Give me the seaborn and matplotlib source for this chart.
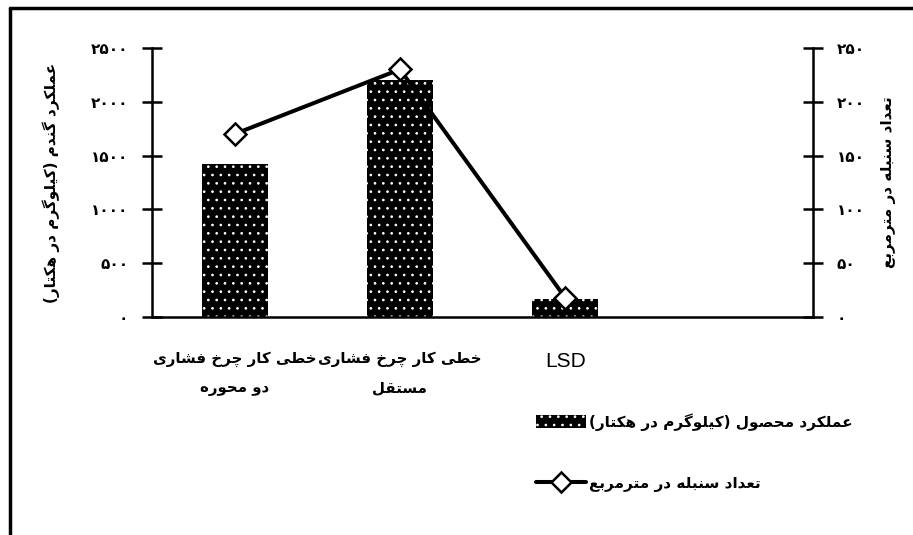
import numpy as np
import pandas as pd
import matplotlib
matplotlib.use("Agg")
import matplotlib.pyplot as plt
from matplotlib.patches import Patch
from matplotlib.lines import Line2D
import seaborn as sns

# data
categories = ["خطی کار چرخ فشاری\nدو محوره", "خطی کار چرخ فشاری\nمستقل", "LSD"]
grain_yield = [1420, 2200, 170]          # left axis, kg/ha
spike_count = [170, 230, 18]             # right axis, per m2
yield_ticks = [0, 500, 1000, 1500, 2000, 2500]
spike_ticks = [0, 50, 100, 150, 200, 250]
ylabel_left = "عملکرد گندم (کیلوگرم در هکتار)"
ylabel_right = "تعداد سنبله در مترمربع"
legend_bar = "عملکرد محصول (کیلوگرم در هکتار)"
legend_line = "تعداد سنبله در مترمربع"

# matplotlib has no arabic shaping, so do a small one by hand
FORMS = {
    'ا': ('\uFE8D', '\uFE8E'), 'آ': ('\uFE81', '\uFE82'),
    'د': ('\uFEA9', '\uFEAA'), 'ذ': ('\uFEAB', '\uFEAC'),
    'ر': ('\uFEAD', '\uFEAE'), 'ز': ('\uFEAF', '\uFEB0'),
    'ژ': ('\uFB8A', '\uFB8B'), 'و': ('\uFEED', '\uFEEE'),
    'ب': ('\uFE8F', '\uFE90', '\uFE91', '\uFE92'),
    'پ': ('\uFB56', '\uFB57', '\uFB58', '\uFB59'),
    'ت': ('\uFE95', '\uFE96', '\uFE97', '\uFE98'),
    'ث': ('\uFE99', '\uFE9A', '\uFE9B', '\uFE9C'),
    'ج': ('\uFE9D', '\uFE9E', '\uFE9F', '\uFEA0'),
    'چ': ('\uFB7A', '\uFB7B', '\uFB7C', '\uFB7D'),
    'ح': ('\uFEA1', '\uFEA2', '\uFEA3', '\uFEA4'),
    'خ': ('\uFEA5', '\uFEA6', '\uFEA7', '\uFEA8'),
    'س': ('\uFEB1', '\uFEB2', '\uFEB3', '\uFEB4'),
    'ش': ('\uFEB5', '\uFEB6', '\uFEB7', '\uFEB8'),
    'ص': ('\uFEB9', '\uFEBA', '\uFEBB', '\uFEBC'),
    'ط': ('\uFEC1', '\uFEC2', '\uFEC3', '\uFEC4'),
    'ع': ('\uFEC9', '\uFECA', '\uFECB', '\uFECC'),
    'غ': ('\uFECD', '\uFECE', '\uFECF', '\uFED0'),
    'ف': ('\uFED1', '\uFED2', '\uFED3', '\uFED4'),
    'ق': ('\uFED5', '\uFED6', '\uFED7', '\uFED8'),
    'ک': ('\uFB8E', '\uFB8F', '\uFB90', '\uFB91'),
    'گ': ('\uFB92', '\uFB93', '\uFB94', '\uFB95'),
    'ل': ('\uFEDD', '\uFEDE', '\uFEDF', '\uFEE0'),
    'م': ('\uFEE1', '\uFEE2', '\uFEE3', '\uFEE4'),
    'ن': ('\uFEE5', '\uFEE6', '\uFEE7', '\uFEE8'),
    'ه': ('\uFEE9', '\uFEEA', '\uFEEB', '\uFEEC'),
    'ی': ('\uFBFC', '\uFBFD', '\uFBFE', '\uFBFF'),
}


def shape_line(text):
    if not any(ch in FORMS for ch in text):
        return text
    out = []
    for i, ch in enumerate(text):
        f = FORMS.get(ch)
        if f is None:
            out.append(ch)
            continue
        prev = text[i - 1] if i > 0 else ''
        nxt = text[i + 1] if i < len(text) - 1 else ''
        join_prev = prev in FORMS and len(FORMS[prev]) == 4
        join_next = len(f) == 4 and nxt in FORMS
        if join_prev and join_next:
            out.append(f[3])
        elif join_prev:
            out.append(f[1])
        elif join_next:
            out.append(f[2])
        else:
            out.append(f[0])
    s = ''.join(out)[::-1]
    return s.translate({ord('('): ')', ord(')'): '('})


def fa(text):
    return '\n'.join(shape_line(t) for t in text.split('\n'))


def fa_num(v):
    return str(v).translate(str.maketrans('0123456789', '۰۱۲۳۴۵۶۷۸۹'))


sns.set_style("white")
plt.rcParams['font.family'] = ['DejaVu Sans']
plt.rcParams['font.weight'] = 'bold'
plt.rcParams['hatch.linewidth'] = 0.7
for k in ('text.color', 'axes.labelcolor', 'xtick.color', 'ytick.color'):
    plt.rcParams[k] = 'black'

fig = plt.figure(figsize=(9.13, 5.35), dpi=100)
ax = fig.add_axes([0.1665, 0.4075, 0.724, 0.503])

df = pd.DataFrame({'cat': categories, 'yield': grain_yield})
sns.barplot(data=df, x='cat', y='yield', color='black', width=0.4, ax=ax,
            saturation=1)
for p in ax.patches:
    p.set_facecolor('black')
    p.set_edgecolor('white')
    p.set_linewidth(0)
    p.set_hatch('..')

ax.set_xlim(-0.5, 3.5)
ax.set_ylim(0, 2500)
ax.set_yticks(yield_ticks)
ax.set_yticklabels([fa_num(t) for t in yield_ticks], fontsize=11, fontweight='bold')
ax.set_xticks(np.arange(-0.5, 4.0, 1.0))
ax.set_xticklabels([])
ax.set_xticks(range(len(categories)), [fa(c) for c in categories], minor=True)
ax.tick_params(axis='x', which='minor', length=0, pad=25, labelsize=10.8)
ax.tick_params(axis='both', which='major', direction='inout', length=14, width=1.8)
ax.tick_params(axis='y', pad=10)
ax.set_xlabel('')
ax.set_ylabel(fa(ylabel_left), fontsize=11, fontweight='bold', labelpad=22)
for lab in ax.get_xticklabels(minor=True):
    lab.set_fontweight('bold')
    lab.set_linespacing(2.1)
    if lab.get_text() == 'LSD':
        lab.set_fontfamily('Liberation Sans')
        lab.set_fontweight('normal')
        lab.set_fontsize(15)

ax2 = ax.twinx()
sns.lineplot(x=np.arange(len(spike_count)), y=spike_count, ax=ax2, color='black',
             lw=2.9, marker='D', markersize=11.5, markerfacecolor='white',
             markeredgecolor='black', markeredgewidth=1.8)
ax2.set_ylim(0, 250)
ax2.set_yticks(spike_ticks)
ax2.set_yticklabels([fa_num(t) for t in spike_ticks], fontsize=11, fontweight='bold')
ax2.tick_params(axis='y', direction='inout', length=14, width=1.8, pad=10)
ax2.set_ylabel(fa(ylabel_right), fontsize=11, fontweight='bold', rotation=90,
               labelpad=12)
ax2.yaxis.set_label_position('right')

for a in (ax, ax2):
    a.spines['top'].set_visible(False)
    for s in ('left', 'right', 'bottom'):
        a.spines[s].set_linewidth(1.8)
        a.spines[s].set_color('black')
ax.spines['right'].set_visible(False)
ax2.spines['left'].set_visible(False)
ax2.spines['bottom'].set_visible(False)

handles = [Patch(facecolor='black', edgecolor='white', hatch='..', lw=0),
           Line2D([], [], color='black', lw=2.9, marker='D', markersize=10,
                  markerfacecolor='white', markeredgecolor='black', markeredgewidth=1.8)]
fig.legend(handles, [fa(legend_bar), fa(legend_line)], loc='upper left',
           bbox_to_anchor=(536 / 913, 1 - 413 / 535), frameon=False, markerfirst=True,
           borderpad=0, borderaxespad=0,
           handlelength=3.3, handleheight=0.9, labelspacing=2.95, handletextpad=0.2,
           prop={'weight': 'bold', 'size': 11})

# outer frame: only top and left edges show in the reference
fig.add_artist(Line2D([0.011, 1.0], [0.985, 0.985], transform=fig.transFigure,
                      color='black', lw=2.5))
fig.add_artist(Line2D([0.011, 0.011], [0.0, 0.985], transform=fig.transFigure,
                      color='black', lw=2.5))

fig.savefig('out.png', dpi=100)
